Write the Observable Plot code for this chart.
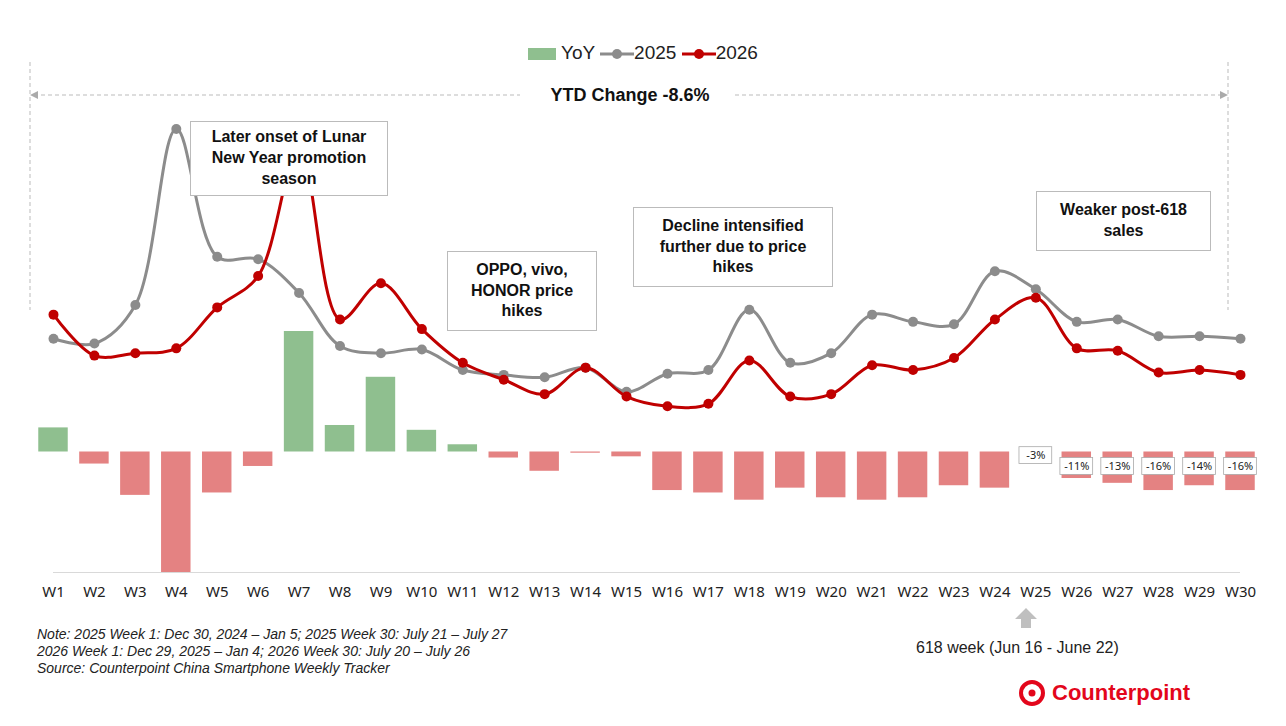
<!DOCTYPE html>
<html><head><meta charset="utf-8">
<script src="https://cdn.jsdelivr.net/npm/d3@7"></script>
<script src="https://cdn.jsdelivr.net/npm/@observablehq/plot@0.6"></script>
<style>
body{margin:0;width:1286px;height:726px;background:#fff;font-family:Arial,"Liberation Sans",sans-serif;position:relative;overflow:hidden}
.ab{position:absolute}
.box{position:absolute;border:1px solid #bbb;background:#fff;font-weight:bold;font-size:16px;color:#111;text-align:center;display:flex;align-items:center;justify-content:center;line-height:1.3;box-sizing:border-box;padding:2px 6px}
.note{position:absolute;left:37px;font-style:italic;font-size:14px;color:#222}
</style></head><body>
<div id="chart" class="ab" style="left:0;top:40px"></div>
<script>
const weeks = Array.from({length:30},(_,i)=>"W"+(i+1));
const yoy = [10,-5,-18,-50,-17,-6,50,11,31,9,3,-2.5,-8,-0.5,-2,-16,-17,-20,-15,-19,-20,-19,-14,-15,-3,-11,-13,-16,-14,-16];
const s2025 = [47,45,61,134,81,80,66,44,41,42.5,34,32,31,35,25,32.5,34,59,37,41,57,54,53,75,67.5,54,55,48,48,47];
const s2026 = [57,40,41,43,60,73,126,55,70,51,37,30,24,35,23,19,20,38,23,24,36,34,39,55,64,43,42,33,34,32];
const labelFrom = 25;

const bars = weeks.map((w,i)=>({i:i+1,v:yoy[i]}));
const l25 = weeks.map((w,i)=>({i:i+1,v:s2025[i]}));
const l26 = weeks.map((w,i)=>({i:i+1,v:s2026[i]}));
const labs = bars.filter(d=>d.i>=labelFrom).map(d=>({...d,t:Math.round(d.v)+"%",y:d.i===labelFrom?-1.5:-6}));

const p = Plot.plot({
  width:1286,height:572,marginLeft:53,marginRight:46,marginTop:50,marginBottom:40,
  x:{domain:[1,30],axis:null},
  y:{domain:[-50,150],axis:null},
  marks:[
    Plot.rect(bars.filter(d=>d.i!==labelFrom),{x1:d=>d.i-0.36,x2:d=>d.i+0.36,y1:0,y2:"v",fill:d=>d.v>=0?"#8fbf8f":"#e48282"}),
    Plot.rect(labs,{x1:d=>d.i-0.4,x2:d=>d.i+0.4,y1:d=>d.y-3.5,y2:d=>d.y+3.5,fill:"#fff",stroke:"#aaa",strokeWidth:0.8}),
    Plot.text(labs,{x:"i",y:"y",text:"t",fontSize:11,fill:"#222"}),
    Plot.line(l25,{x:"i",y:"v",stroke:"#8c8c8c",strokeWidth:3,curve:"catmull-rom"}),
    Plot.dot(l25,{x:"i",y:"v",fill:"#8c8c8c",r:5}),
    Plot.line(l26,{x:"i",y:"v",stroke:"#c00000",strokeWidth:3,curve:"catmull-rom"}),
    Plot.dot(l26,{x:"i",y:"v",fill:"#c00000",r:5}),
    Plot.ruleY([-50],{stroke:"#d9d9d9"}),
    Plot.text(bars,{x:"i",y:-50,text:d=>weeks[d.i-1],dy:20,fontSize:15,fill:"#222"})
  ]
});
document.getElementById("chart").appendChild(p);
</script>
<div class="ab" style="left:0;top:42px;width:1286px;text-align:center;font-size:19px;color:#222">
  <span style="display:inline-block;width:28px;height:12px;background:#8fbf8f;vertical-align:middle"></span> YoY
  <svg width="34" height="12" style="vertical-align:middle"><line x1="0" y1="6" x2="34" y2="6" stroke="#8c8c8c" stroke-width="3"/><circle cx="17" cy="6" r="5" fill="#8c8c8c"/></svg>2025
  <svg width="34" height="12" style="vertical-align:middle"><line x1="0" y1="6" x2="34" y2="6" stroke="#c00000" stroke-width="3"/><circle cx="17" cy="6" r="5" fill="#c00000"/></svg>2026
</div>
<svg class="ab" style="left:0;top:0" width="1286" height="726">
  <g stroke="#bbb" stroke-dasharray="4,3" fill="none">
    <line x1="30" y1="62" x2="30" y2="310"/><line x1="1228" y1="62" x2="1228" y2="310"/>
    <line x1="34" y1="95" x2="520" y2="95"/><line x1="735" y1="95" x2="1224" y2="95"/>
  </g>
  <path d="M30 95 l8 -4 v8 z M1228 95 l-8 -4 v8 z" fill="#aaa"/>
  <text x="630" y="101" text-anchor="middle" font-weight="bold" font-size="18" fill="#111">YTD Change -8.6%</text>
  <path d="M1026 608 l-11 11 h6 v9 h10 v-9 h6 z" fill="#bfbfbf"/>
</svg>
<div class="box" style="left:190px;top:121px;width:198px;height:75px">Later onset of Lunar New Year promotion season</div>
<div class="box" style="left:447px;top:251px;width:150px;height:80px">OPPO, vivo, HONOR price hikes</div>
<div class="box" style="left:633px;top:207px;width:200px;height:80px">Decline intensified further due to price hikes</div>
<div class="box" style="left:1036px;top:191px;width:175px;height:60px">Weaker post-618 sales</div>
<div class="note" style="top:626px">Note: 2025 Week 1: Dec 30, 2024 – Jan 5; 2025 Week 30: July 21 – July 27</div>
<div class="note" style="top:643px">2026 Week 1: Dec 29, 2025 – Jan 4; 2026 Week 30: July 20 – July 26</div>
<div class="note" style="top:660px">Source: Counterpoint China Smartphone Weekly Tracker</div>
<div class="ab" style="left:916px;top:639px;font-size:16px;color:#222">618 week (Jun 16 - June 22)</div>
<div class="ab" style="left:1018px;top:679px;font-size:22px;font-weight:bold;color:#e3061b;display:flex;align-items:center">
  <svg width="28" height="28" style="margin-right:6px"><circle cx="14" cy="14" r="11" fill="none" stroke="#e3061b" stroke-width="4"/><circle cx="14" cy="14" r="3.5" fill="#e3061b"/></svg>Counterpoint</div>
</body></html>
